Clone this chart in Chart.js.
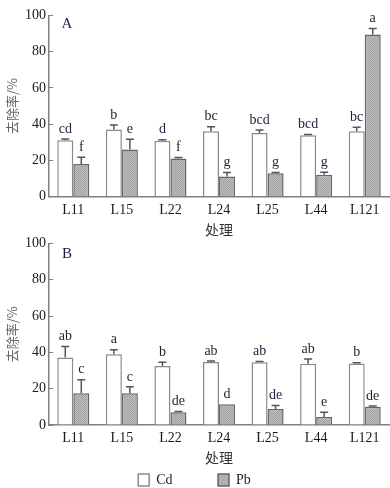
<!DOCTYPE html>
<html>
<head>
<meta charset="utf-8">
<script src="https://cdn.jsdelivr.net/npm/chart.js@4.4.1/dist/chart.umd.min.js"></script>
<style>
  html, body { margin: 0; padding: 0; background: #fff; }
  #wrap { position: relative; width: 390px; height: 488px; }
  canvas { position: absolute; left: 0; }
  #chartA { top: 0; }
  #chartB { top: 228px; }
</style>
</head>
<body>
<div id="wrap">
  <canvas id="chartA" width="390" height="240"></canvas>
  <canvas id="chartB" width="390" height="260"></canvas>
</div>
<script>
const categories = ['L11', 'L15', 'L22', 'L24', 'L25', 'L44', 'L121']
const yTicks = [0, 20, 40, 60, 80, 100]

// panel A
const cdA = [31, 37, 30.8, 36, 35, 33.8, 36]
const cdErrA = [0.8, 2.5, 0.6, 2.5, 1.7, 0.5, 2.3]
const cdLetA = ['cd', 'b', 'd', 'bc', 'bcd', 'bcd', 'bc']
const pbA = [18, 26, 21, 11, 12.8, 12, 89.5]
const pbErrA = [3.7, 5.6, 0.5, 2.3, 0.5, 1.4, 3.3]
const pbLetA = ['f', 'e', 'f', 'g', 'g', 'g', 'a']

// panel B
const cdB = [37.2, 38.9, 32.5, 34.7, 34.5, 33.7, 33.8]
const cdErrB = [6, 2.6, 2, 0.5, 0.4, 2.6, 0.5]
const cdLetB = ['ab', 'a', 'b', 'ab', 'ab', 'ab', 'b']
const pbB = [17.5, 17.5, 7, 11.4, 8.8, 4.4, 10]
const pbErrB = [7.4, 3.5, 0.5, 0, 1.9, 2.6, 0.5]
const pbLetB = ['c', 'c', 'de', 'd', 'de', 'e', 'de']

const serif = 'Liberation Serif'
const cjk = 'Noto Sans CJK SC'
const axisGray = '#808080'

// stippled grey fill for Pb
const makePattern = function () {
    const c = document.createElement('canvas')
    c.width = 2; c.height = 2
    const g = c.getContext('2d')
    g.fillStyle = '#bdbdbd'; g.fillRect(0, 0, 2, 2)
    g.fillStyle = '#a2a2a2'; g.fillRect(0, 0, 1, 1); g.fillRect(1, 1, 1, 1)
    return g.createPattern(c, 'repeat')
}
const pbFill = makePattern()

// error bars, significance letters and panel letter
const barNotes = {
    id: 'barNotes',
    afterDatasetsDraw(chart, args, opts) {
        const ctx = chart.ctx
        const y = chart.scales.y
        ctx.save()
        chart.data.datasets.forEach((ds, di) => {
            const meta = chart.getDatasetMeta(di)
            meta.data.forEach((bar, i) => {
                const err = ds.errors[i]
                const top = y.getPixelForValue(ds.data[i] + err)
                if (err > 0) {
                    ctx.strokeStyle = '#555'
                    ctx.lineWidth = 1.5
                    ctx.beginPath()
                    ctx.moveTo(bar.x, bar.y)
                    ctx.lineTo(bar.x, top)
                    ctx.moveTo(bar.x - 4, top)
                    ctx.lineTo(bar.x + 4, top)
                    ctx.stroke()
                }
                ctx.fillStyle = '#1e1e3c'
                ctx.font = '14px "' + serif + '"'
                ctx.textAlign = 'center'
                ctx.textBaseline = 'middle'
                ctx.fillText(ds.letters[i], bar.x, top - 10)
            })
        })
        const a = chart.chartArea
        ctx.fillStyle = '#1e1e3c'
        ctx.font = '15px "' + serif + '"'
        ctx.textAlign = 'center'
        ctx.textBaseline = 'middle'
        ctx.fillText(opts.panel, a.left + 18, a.top + opts.dy)
        ctx.restore()
    }
}

const makeConfig = function (cd, cdErr, cdLet, pb, pbErr, pbLet, panel) {
    const isB = panel === 'B'
    return {
        type: 'bar',
        data: {
            labels: categories,
            datasets: [{
                label: 'Cd',
                data: cd,
                errors: cdErr,
                letters: cdLet,
                backgroundColor: '#ffffff',
                borderColor: '#8a8a8a',
                borderWidth: 1.5,
                categoryPercentage: 0.66,
                barPercentage: 1
            }, {
                label: 'Pb',
                data: pb,
                errors: pbErr,
                letters: pbLet,
                backgroundColor: pbFill,
                borderColor: '#666666',
                borderWidth: 1.5,
                categoryPercentage: 0.66,
                barPercentage: 1
            }]
        },
        options: {
            responsive: false,
            animation: false,
            layout: { padding: { top: isB ? 8 : 9.5, right: 1, left: 0, bottom: 0 } },
            plugins: {
                tooltip: { enabled: false },
                barNotes: { panel: panel, dy: isB ? 11 : 8.5 },
                legend: {
                    display: isB,
                    position: 'bottom',
                    maxHeight: 22,
                    labels: {
                        boxWidth: 11,
                        boxHeight: 12,
                        padding: 7,
                        color: '#222',
                        font: { family: serif, size: 14 },
                        generateLabels: function (chart) {
                            const items = Chart.defaults.plugins.legend.labels.generateLabels(chart)
                            items[0].text = 'Cd           '
                            return items
                        }
                    }
                }
            },
            scales: {
                x: {
                    grid: { display: false },
                    border: { display: true, color: axisGray, width: 1.5 },
                    ticks: { color: '#1a1a1a', padding: -3, font: { family: serif, size: 14 } },
                    title: {
                        display: true,
                        text: '处理',
                        color: '#333',
                        font: { family: cjk, size: 14 },
                        padding: { top: 0, bottom: isB ? 0 : 2 }
                    },
                    afterFit: function (s) { s.height = isB ? 41 : 43.5 }
                },
                y: {
                    min: 0,
                    max: 100,
                    afterBuildTicks: function (s) { s.ticks = yTicks.map(v => ({ value: v })) },
                    grid: {
                        display: true,
                        drawOnChartArea: false,
                        drawTicks: true,
                        tickLength: -4,
                        color: axisGray,
                        lineWidth: 1
                    },
                    border: { display: true, color: axisGray, width: 1.5 },
                    ticks: { color: '#1a1a1a', padding: 7, font: { family: serif, size: 14 } },
                    title: {
                        display: true,
                        text: '去除率/%',
                        color: '#666',
                        font: { family: cjk, size: 13 },
                        padding: { top: 4, bottom: 0 }
                    },
                    afterFit: function (s) { s.width = 49 }
                }
            }
        },
        plugins: [barNotes]
    }
}

const chartA = new Chart(
    document.getElementById('chartA'),
    makeConfig(cdA, cdErrA, cdLetA, pbA, pbErrA, pbLetA, 'A')
)

const chartB = new Chart(
    document.getElementById('chartB'),
    makeConfig(cdB, cdErrB, cdLetB, pbB, pbErrB, pbLetB, 'B')
)
</script>
</body>
</html>
